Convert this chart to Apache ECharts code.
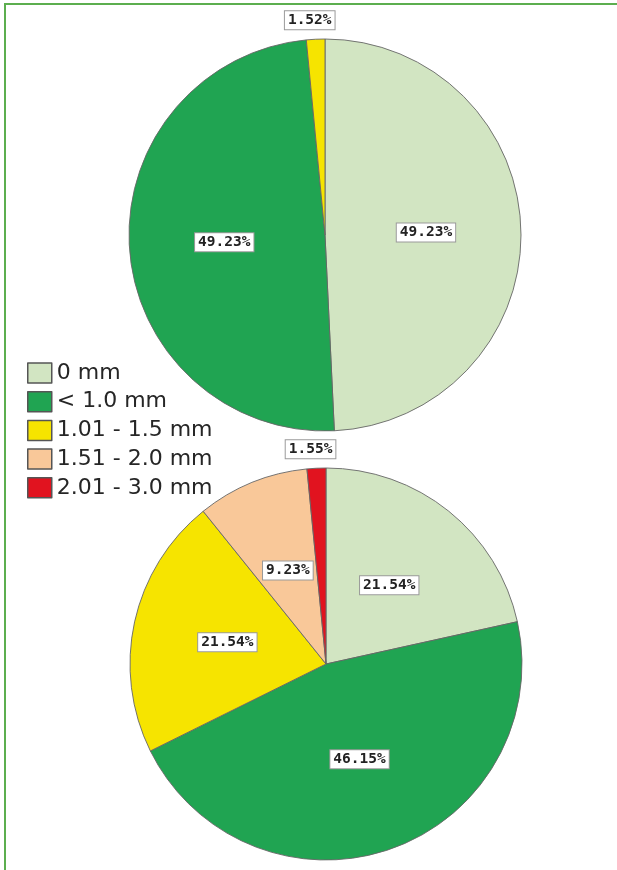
<!DOCTYPE html>
<html>
<head>
<meta charset="utf-8">
<script src="https://cdn.jsdelivr.net/npm/echarts@6/dist/echarts.min.js"></script>
<style>
  html, body { margin: 0; padding: 0; background: #fff; }
  #wrap { position: relative; width: 617px; height: 870px; overflow: hidden; }
  #frame { position: absolute; left: 4px; top: 3px; width: 640px; height: 900px;
           border-left: 2px solid #5cae4f; border-top: 2px solid #5cae4f; box-sizing: border-box; }
  #chart { position: absolute; left: 0; top: 0; width: 617px; height: 870px; }
</style>
</head>
<body>
<div id="wrap">
  <div id="frame"></div>
  <div id="chart"></div>
</div>
<script>
// Categories (legend order, clockwise from 12 o'clock)
const categories = ['0 mm', '< 1.0 mm', '1.01 - 1.5 mm', '1.51 - 2.0 mm', '2.01 - 3.0 mm'];
const colors = ['#d2e5c2', '#20a452', '#f6e400', '#f9c899', '#e1131f'];

// Top pie values (percent)
const topValues = [49.23, 49.23, 1.52];
// Bottom pie values (percent)
const bottomValues = [21.54, 46.15, 21.54, 9.23, 1.55];

const labelBox = {
  fontFamily: 'DejaVu Sans Mono',
  fontWeight: 'bold',
  fontSize: 14.5,
  color: '#222',
  backgroundColor: '#fff',
  borderColor: '#9a9a9a',
  borderWidth: 1,
  padding: [2, 3, 1, 3],
  formatter: p => p.value.toFixed(2) + '%'
};

function buildData(values) {
  return values.map((v, i) => {
    const item = { name: categories[i], value: v, itemStyle: { color: colors[i] } };
    if (v < 5) {
      item.label = Object.assign({}, labelBox, { position: 'outside' });
      item.labelLine = { show: false, length: 19, length2: 0 };
    }
    return item;
  });
}

const chart = echarts.init(document.getElementById('chart'), null, { renderer: 'canvas' });

function pieSeries(values, center) {
  return {
    type: 'pie',
    center: center,
    radius: 196,
    startAngle: 90,
    clockwise: true,
    animation: false,
    avoidLabelOverlap: false,
    itemStyle: { borderColor: '#666', borderWidth: 0.9 },
    label: Object.assign({ show: true, position: 'inside' }, labelBox),
    labelLine: { show: false, length: 19, length2: 0 },
    labelLayout: function () {
      return { align: 'center', verticalAlign: 'middle' };
    },
    emphasis: { disabled: true },
    data: buildData(values)
  };
}

chart.setOption({
  animation: false,
  legend: {
    orient: 'vertical',
    left: 22,
    top: 357,
    itemWidth: 24,
    itemHeight: 20,
    itemGap: 6.7,
    icon: 'rect',
    data: categories,
    itemStyle: { borderColor: '#555', borderWidth: 1.5 },
    textStyle: { fontFamily: 'DejaVu Sans', fontSize: 22, color: '#262626', padding: [0, 0, 0, 0] }
  },
  series: [
    pieSeries(topValues, [325, 235]),
    pieSeries(bottomValues, [326, 664])
  ]
});
</script>
</body>
</html>
